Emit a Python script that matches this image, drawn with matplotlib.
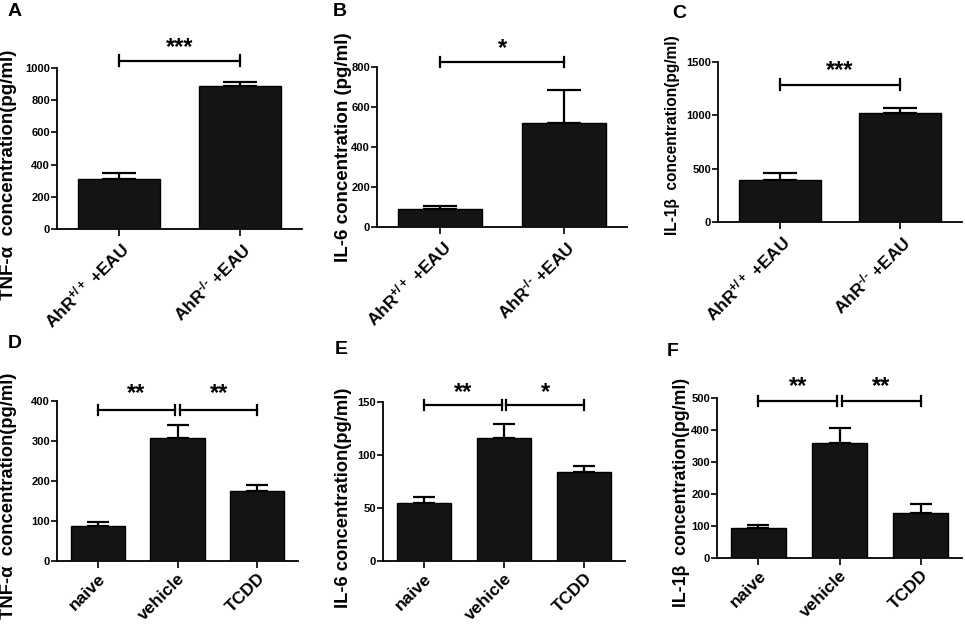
import matplotlib
matplotlib.use('Agg')
import matplotlib.pyplot as plt
import numpy as np

plt.rcParams['font.family'] = 'Liberation Sans'
plt.rcParams['font.weight'] = 'bold'
plt.rcParams['mathtext.fontset'] = 'custom'
plt.rcParams['mathtext.rm'] = 'Liberation Sans:bold'
plt.rcParams['mathtext.it'] = 'Liberation Sans:bold'
plt.rcParams['mathtext.bf'] = 'Liberation Sans:bold'
plt.rcParams['axes.linewidth'] = 1.3

# groups
eau_groups = ['AhR$^{+/+}$ +EAU', 'AhR$^{\u2010/\u2010}$ +EAU']
tcdd_groups = ['naive', 'vehicle', 'TCDD']

# top row: AhR knockout in EAU
tnf_eau = [309, 886]
tnf_eau_sem = [37, 29]
il6_eau = [88, 520]
il6_eau_sem = [17, 163]
il1b_eau = [395, 1018]
il1b_eau_sem = [62, 53]

# bottom row: TCDD treatment
tnf_tcdd = [88, 307, 176]
tnf_tcdd_sem = [10, 32, 15]
il6_tcdd = [54.6, 116, 84]
il6_tcdd_sem = [5.5, 13.6, 6]
il1b_tcdd = [92.5, 358, 141]
il1b_tcdd_sem = [10, 48, 29]

# significance marks
eau_stars = [['***'], ['*'], ['***']]
tcdd_stars = [['**', '**'], ['**', '*'], ['**', '**']]

W, H = 965, 626
fig = plt.figure(figsize=(W / 100, H / 100), dpi=100)


def px_rect(left, top, right, bottom):
    return [left / W, 1 - bottom / H, (right - left) / W, (bottom - top) / H]


def draw_panel(rect, groups, vals, sems, ymax, step, ylabel, lab_x, lab_y,
               lab_size, stars, bracket_y, star_y, capsize):
    ax = fig.add_axes(rect)
    n = len(groups)
    x = np.arange(n)
    ax.bar(x, vals, width=0.68, color='#141414', edgecolor='black',
           linewidth=1.0, zorder=3)
    ax.errorbar(x, vals, yerr=[np.zeros(n), sems], fmt='none', ecolor='black',
                elinewidth=1.6, capsize=capsize, capthick=1.6, zorder=2)
    ax.set_xlim(-0.51, n - 0.49)
    ax.set_ylim(0, ymax)
    ax.set_yticks(np.arange(0, ymax + 1, step))
    ax.tick_params(axis='y', labelsize=8, length=4, width=1.2, pad=1)
    ax.tick_params(axis='x', length=5, width=1.2, pad=2)
    ax.set_xticks(x)
    ax.set_xticklabels(groups, rotation=45, ha='right', va='top',
                       rotation_mode='anchor', fontsize=12.5)
    for s in ['top', 'right']:
        ax.spines[s].set_visible(False)
    ax.set_ylabel(ylabel, fontsize=lab_size, fontweight='bold')
    ax.yaxis.set_label_coords(lab_x, lab_y)

    tick = 0.032 * ymax
    if n == 2:
        pairs = [(0, 1)]
    else:
        pairs = [(0, 0.97), (1.03, 2)]
    for (a, b), st in zip(pairs, stars):
        ax.plot([a, b], [bracket_y, bracket_y], color='black', lw=1.6,
                clip_on=False)
        for xe in (a, b):
            ax.plot([xe, xe], [bracket_y - tick, bracket_y + tick],
                    color='black', lw=1.6, clip_on=False)
        ax.text((a + b) / 2, star_y, st, ha='center', va='center',
                fontsize=17, fontweight='bold', clip_on=False)
    return ax


draw_panel(px_rect(57, 68, 302, 229), eau_groups, tnf_eau, tnf_eau_sem,
           1000, 200, 'TNF-α  concentration(pg/ml)', -0.163, 0.335, 13.5,
           eau_stars[0], 1046, 1130, 12)
draw_panel(px_rect(377, 67, 627, 227), eau_groups, il6_eau, il6_eau_sem,
           800, 200, 'IL-6 concentration (pg/ml)', -0.10, 0.5, 13.5,
           eau_stars[1], 825, 890, 12)
draw_panel(px_rect(718, 62, 962, 222), eau_groups, il1b_eau, il1b_eau_sem,
           1500, 500, 'IL-1β  concentration(pg/ml)', -0.156, 0.54, 11.2,
           eau_stars[2], 1288, 1420, 12)
draw_panel(px_rect(57, 401, 298, 561), tcdd_groups, tnf_tcdd, tnf_tcdd_sem,
           400, 100, 'TNF-α  concentration(pg/ml)', -0.166, 0.41, 13.2,
           tcdd_stars[0], 377, 418, 8)
draw_panel(px_rect(383, 402, 625, 561), tcdd_groups, il6_tcdd, il6_tcdd_sem,
           150, 50, 'IL-6 concentration(pg/ml)', -0.128, 0.40, 13.2,
           tcdd_stars[1], 147, 159, 8)
draw_panel(px_rect(717, 398, 962, 558), tcdd_groups, il1b_tcdd, il1b_tcdd_sem,
           500, 100, 'IL-1β  concentration(pg/ml)', -0.11, 0.41, 12.8,
           tcdd_stars[2], 490, 535, 8)

for letter, (px, py) in zip('ABCDEF', [(8, 3), (333, 3), (672, 5),
                                      (8, 335), (335, 341), (667, 343)]):
    fig.text(px / W, 1 - py / H, letter, ha='left', va='top', fontsize=14,
             fontweight='bold')

fig.savefig('out.png', dpi=100)
